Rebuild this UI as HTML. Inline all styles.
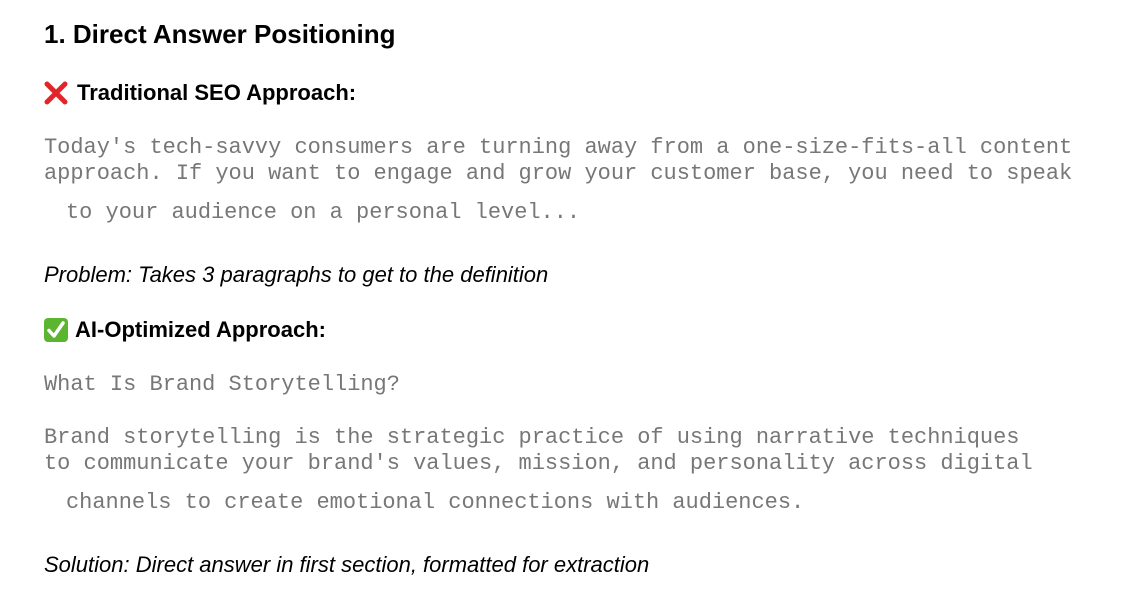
<!DOCTYPE html>
<html><head><meta charset="utf-8"><style>
body{margin:0;width:1122px;height:612px;background:#fff;position:relative;overflow:hidden;font-family:"Liberation Sans",sans-serif;color:#000}
.a{position:absolute;white-space:pre}
.h1{font-weight:bold;font-size:26px}
.h3{font-weight:bold;font-size:22px}
.m{font-family:"Liberation Mono",monospace;font-size:22px;color:#777;letter-spacing:-0.02px}
.i{font-style:italic;font-size:22px}
</style></head><body>
<div class="a h1" style="left:44px;top:19px">1. Direct Answer Positioning</div>
<svg class="a" style="left:44px;top:81px" width="24" height="24" viewBox="0 0 24 24"><path d="M3 3L21 21M21 3L3 21" stroke="#e0262a" stroke-width="5" stroke-linecap="round"/></svg>
<div class="a h3" style="left:77px;top:80px">Traditional SEO Approach:</div>
<div class="a m" style="left:44px;top:135px">Today's tech-savvy consumers are turning away from a one-size-fits-all content</div>
<div class="a m" style="left:44px;top:161px">approach. If you want to engage and grow your customer base, you need to speak</div>
<div class="a m" style="left:66px;top:200px">to your audience on a personal level...</div>
<div class="a i" style="left:44px;top:262px">Problem: Takes 3 paragraphs to get to the definition</div>
<svg class="a" style="left:44px;top:318px" width="24" height="24" viewBox="0 0 24 24"><rect x="0" y="0" width="24" height="24" rx="4" fill="#5cb531"/><path d="M5 12.5L10 18L19 5" stroke="#fff" stroke-width="3.5" fill="none" stroke-linecap="round" stroke-linejoin="round"/></svg>
<div class="a h3" style="left:75px;top:317px">AI-Optimized Approach:</div>
<div class="a m" style="left:44px;top:372px">What Is Brand Storytelling?</div>
<div class="a m" style="left:44px;top:425px">Brand storytelling is the strategic practice of using narrative techniques</div>
<div class="a m" style="left:44px;top:451px">to communicate your brand's values, mission, and personality across digital</div>
<div class="a m" style="left:66px;top:490px">channels to create emotional connections with audiences.</div>
<div class="a i" style="left:44px;top:552px">Solution: Direct answer in first section, formatted for extraction</div>
</body></html>
